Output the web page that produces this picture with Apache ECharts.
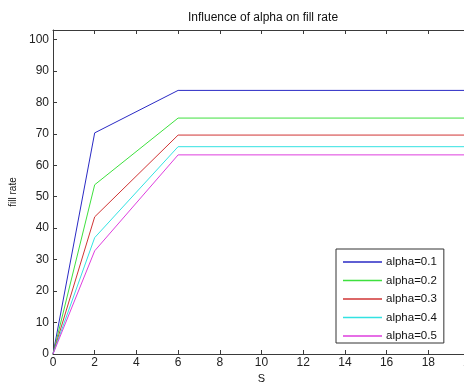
<!DOCTYPE html>
<html>
<head>
<meta charset="utf-8">
<script src="https://cdn.jsdelivr.net/npm/echarts@6/dist/echarts.min.js"></script>
<style>
html,body{margin:0;padding:0;background:#fff;}
#chart{width:464px;height:385px;}
</style>
</head>
<body>
<div id="chart"></div>
<script>
var sValues = [0, 2, 6, 20];
var seriesNames = ['alpha=0.1', 'alpha=0.2', 'alpha=0.3', 'alpha=0.4', 'alpha=0.5'];
var alpha01 = [0, 70.3, 83.8, 83.8];
var alpha02 = [0, 53.8, 75.0, 75.0];
var alpha03 = [0, 43.6, 69.6, 69.6];
var alpha04 = [0, 37.0, 65.9, 65.9];
var alpha05 = [0, 32.8, 63.3, 63.3];
var colors = ['#2a2ac4', '#3ee03e', '#d03434', '#33e2e2', '#de3ede'];

var allValues = [alpha01, alpha02, alpha03, alpha04, alpha05];
var fontFam = '"Liberation Sans", Arial, sans-serif';
var axisColor = '#3a3a3a';

function pairs(vals) {
  return sValues.map(function (s, i) { return [s, vals[i]]; });
}

var chart = echarts.init(document.getElementById('chart'), null, {renderer: 'canvas'});
var series = seriesNames.map(function (n, i) {
  return {
    name: n,
    type: 'line',
    data: pairs(allValues[i]),
    symbol: 'none',
    lineStyle: {color: colors[i], width: 1},
    itemStyle: {color: colors[i]},
    animation: false
  };
});

var tickCommon = {show: true, inside: true, length: 4, lineStyle: {color: axisColor, width: 1}};
chart.setOption({
  animation: false,
  backgroundColor: '#ffffff',
  title: {
    text: 'Influence of alpha on fill rate',
    left: 258, top: 7, textAlign: 'center',
    textStyle: {fontSize: 12, fontWeight: 'normal', color: '#111', fontFamily: fontFam}
  },
  grid: {left: 53, top: 30, width: 417, bottom: 31, containLabel: false, outerBoundsMode: 'none'},
  legend: {
    data: seriesNames,
    orient: 'vertical',
    left: 336, top: 249,
    width: 109,
    padding: [7, 7, 1, 7],
    itemGap: 6.5,
    itemWidth: 39, itemHeight: 1.5,
    icon: 'rect',
    backgroundColor: '#fff',
    borderColor: '#333', borderWidth: 1, borderRadius: 0,
    textStyle: {fontSize: 11.5, color: '#111', fontFamily: fontFam, padding: [0, 0, 0, -1]}
  },
  xAxis: [{
    type: 'value', min: 0, max: 20, interval: 2,
    name: 'S', nameLocation: 'middle', nameGap: 17,
    nameTextStyle: {fontSize: 11, color: '#111', fontFamily: fontFam},
    axisLine: {show: true, onZero: false, lineStyle: {color: axisColor, width: 1}},
    axisTick: tickCommon,
    axisLabel: {fontSize: 12, color: '#222', margin: 3, fontFamily: fontFam},
    splitLine: {show: false}
  }, {
    type: 'value', min: 0, max: 20, interval: 2, position: 'top',
    axisLine: {show: true, onZero: false, lineStyle: {color: axisColor, width: 1}},
    axisTick: tickCommon,
    axisLabel: {show: false},
    splitLine: {show: false}
  }],
  yAxis: [{
    type: 'value', min: 0, max: 103, interval: 10,
    name: 'fill rate', nameLocation: 'middle', nameGap: 29,
    nameTextStyle: {fontSize: 10, color: '#111', fontFamily: fontFam},
    axisLine: {show: true, onZero: false, lineStyle: {color: axisColor, width: 1}},
    axisTick: tickCommon,
    axisLabel: {fontSize: 12, color: '#222', margin: 4, fontFamily: fontFam, showMaxLabel: false},
    splitLine: {show: false}
  }, {
    type: 'value', min: 0, max: 103, interval: 10, position: 'right',
    axisLine: {show: true, onZero: false, lineStyle: {color: axisColor, width: 1}},
    axisTick: tickCommon,
    axisLabel: {show: false},
    splitLine: {show: false}
  }],
  series: series
});
</script>
</body>
</html>
